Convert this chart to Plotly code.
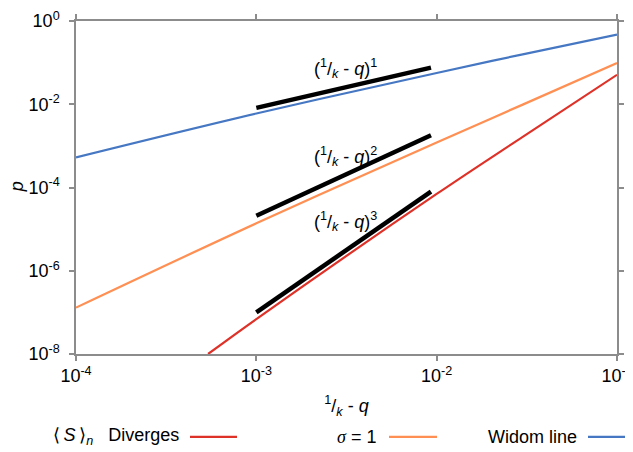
import plotly.graph_objects as go

# ---- data ----
widom_x = [1e-4, 1e-3, 1e-2, 3e-2, 1e-1]
widom_y = [5.3e-4, 6.0e-3, 5.65e-2, 0.158, 0.47]

sigma_x = [1e-4, 1e-3, 1e-2, 3e-2, 1e-1]
sigma_y = [1.3e-7, 1.38e-5, 1.21e-3, 9.8e-3, 0.098]

diverge_x = [5.4e-4, 1e-3, 1e-2, 3e-2, 1e-1]
diverge_y = [1e-8, 6.9e-8, 7.0e-5, 1.65e-3, 0.051]

guide_x = [1e-3, 9.3e-3]
guide1_y = [8.2e-3, 7.6e-2]
guide2_y = [2.1e-5, 1.8e-3]
guide3_y = [1.0e-7, 8.0e-5]

x_tickvals = [1e-4, 1e-3, 1e-2, 1e-1]
x_ticktext = ["10<sup>-4</sup>", "10<sup>-3</sup>", "10<sup>-2</sup>", "10<sup>-1</sup>"]
y_tickvals = [1e-8, 1e-6, 1e-4, 1e-2, 1e0]
y_ticktext = ["10<sup>-8</sup>", "10<sup>-6</sup>", "10<sup>-4</sup>", "10<sup>-2</sup>", "10<sup>0</sup>"]

RED = "#DE3128"
ORANGE = "#FF8F52"
BLUE = "#4677C2"
AXIS = "#8C8C8C"
FONT = "Liberation Sans, Arial, sans-serif"
FS = 18

fig = go.Figure()
fig.add_trace(go.Scatter(x=widom_x, y=widom_y, mode="lines", line=dict(color=BLUE, width=2.2), line_shape="spline", showlegend=False))
fig.add_trace(go.Scatter(x=sigma_x, y=sigma_y, mode="lines", line=dict(color=ORANGE, width=2.2), line_shape="spline", showlegend=False))
fig.add_trace(go.Scatter(x=diverge_x, y=diverge_y, mode="lines", line=dict(color=RED, width=2.2), line_shape="spline", showlegend=False))
for gy in (guide1_y, guide2_y, guide3_y):
    fig.add_trace(go.Scatter(x=guide_x, y=gy, mode="lines", line=dict(color="black", width=4.5), showlegend=False))

guide_lbl = "(<sup>1</sup>/<sub><i>k</i></sub> - <i>q</i>)<sup>%d</sup>"
for n, ly in ((1, -1.14), (2, -3.25), (3, -4.81)):
    fig.add_annotation(x=-2.505, y=ly, xref="x", yref="y", text=guide_lbl % n, showarrow=False,
                       font=dict(size=FS, color="black", family=FONT))

# ---- layout geometry (page body adds an 8px offset) ----
OFF = 8
L, R, T, B = 76 - OFF, 16 + OFF, 20.5 - OFF, 98 + OFF
W, H = 633 - L - R, 452 - T - B
def px(v):
    return (v - OFF - L) / W
def py(v):
    return (452 - B - (v - OFF)) / H

# y-axis title as rotated text placed left of the tick labels
fig.add_annotation(x=px(17), y=py(187), xref="paper", yref="paper", text="<i>p</i>", showarrow=False,
                   textangle=-90, xanchor="center", yanchor="middle", font=dict(size=FS, color="black", family=FONT))

# ---- manual legend (label text, then line sample) ----
legend_y = py(437)
legend_items = [("⟨&#8201;<i>S</i>&#8201;⟩<sub><i>n</i></sub>&nbsp;&nbsp;&nbsp;Diverges", RED, 181, 190, 237),
                ("<span style=\"font-family:'Liberation Serif', serif\"><i>σ</i></span> = 1", ORANGE, 378, 389, 437),
                ("Widom line", BLUE, 579, 588, 640)]
for label, col, tx, l0, l1 in legend_items:
    fig.add_annotation(x=px(tx), y=legend_y, xref="paper", yref="paper", text=label, showarrow=False,
                       xanchor="right", yanchor="middle", font=dict(size=FS, color="black", family=FONT))
    fig.add_shape(type="line", xref="paper", yref="paper", x0=px(l0), x1=px(l1), y0=legend_y, y1=legend_y,
                  line=dict(color=col, width=2.2))

axis_common = dict(type="log", showgrid=False, zeroline=False, showline=True, linecolor=AXIS, linewidth=1.5,
                   mirror="ticks", ticks="outside", ticklen=5, tickcolor=AXIS, tickwidth=1.5, automargin=False,
                   tickfont=dict(size=FS, color="black", family=FONT))
fig.update_xaxes(range=[-4, -1], tickvals=x_tickvals, ticktext=x_ticktext,
                 title=dict(text="<sup>1</sup>/<sub><i>k</i></sub> - <i>q</i>", font=dict(size=FS, color="black", family=FONT), standoff=14),
                 **axis_common)
fig.update_yaxes(range=[-8, 0], tickvals=y_tickvals, ticktext=y_ticktext, ticklabelstandoff=6,
                 **axis_common)
fig.update_layout(width=633, height=452, margin=dict(l=L, r=R, t=T, b=B),
                  plot_bgcolor="white", paper_bgcolor="white", showlegend=False,
                  font=dict(family=FONT, color="black"))
fig.write_html("out.html")
